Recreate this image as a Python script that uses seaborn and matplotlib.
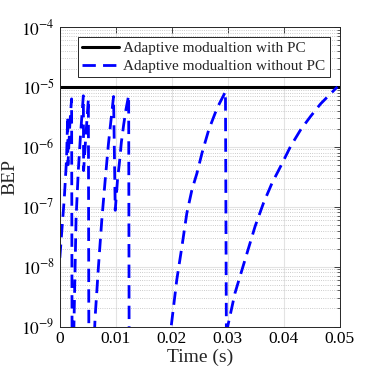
import numpy as np
import pandas as pd
import matplotlib
matplotlib.use('Agg')
import matplotlib.pyplot as plt
import matplotlib.ticker as mticker
import seaborn as sns

# BEP with power control: held at the target value
pc_time = [0.0, 0.05]
pc_bep = [1e-5, 1e-5]

# BEP without power control (values below 1e-9 sit off-axis)
nopc_time = [0.0, 0.0004, 0.0008, 0.0012, 0.0014, 0.00145, 0.0018, 0.0021, 0.0022,
             0.00245, 0.0029, 0.0033, 0.0037, 0.0042, 0.00425, 0.0046, 0.0051, 0.0052,
             0.0061, 0.0063, 0.0069, 0.0075, 0.0081, 0.0087, 0.0093, 0.0096,
             0.0099, 0.0103, 0.0107, 0.0110, 0.0114, 0.0118, 0.0123, 0.0124,
             0.0196, 0.0199, 0.0209, 0.0218, 0.0227, 0.0236, 0.0245, 0.0254, 0.0266,
             0.0281, 0.0296, 0.0298,
             0.0299, 0.0300, 0.0313, 0.0331, 0.0349, 0.0364, 0.0379, 0.0397, 0.0412,
             0.0430, 0.0448, 0.0466, 0.0496]
nopc_bep = [1.4e-8, 4.5e-8, 1.4e-7, 6.3e-7, 3.2e-6, 5e-7, 2.5e-6, 6.3e-6, 1e-10,
            5e-10, 6.3e-8, 4e-7, 1.6e-6, 7.1e-6, 4e-7, 1.3e-6, 6.3e-6, 1e-10,
            5e-10, 1.4e-9, 1e-8, 6e-8, 2.75e-7, 1.15e-6, 3.8e-6, 6.9e-6,
            8.7e-8, 2.75e-7, 6e-7, 1.2e-6, 2.3e-6, 4.1e-6, 7.2e-6, 1e-10,
            5e-10, 1e-9, 6e-9, 2.1e-8, 7.8e-8, 1.9e-7, 3.6e-7, 7.8e-7, 1.9e-6,
            4.4e-6, 8.3e-6, 1e-10,
            5e-10, 1e-9, 3.6e-9, 1.3e-8, 4.7e-8, 1.15e-7, 2.45e-7, 5.2e-7, 1e-6,
            1.9e-6, 3.2e-6, 5.2e-6, 1e-5]

label_pc = 'Adaptive modualtion with PC'
label_nopc = 'Adaptive modualtion without PC'

df_pc = pd.DataFrame({'t': pc_time, 'bep': pc_bep})
df_nopc = pd.DataFrame({'t': nopc_time, 'bep': nopc_bep})

sns.set_theme(style='white')
plt.rcParams['font.family'] = ['Liberation Serif', 'DejaVu Serif']
plt.rcParams['mathtext.fontset'] = 'stix'

fig = plt.figure(figsize=(3.74, 3.74), dpi=100)
ax = fig.add_axes([0.160, 0.127, 0.748, 0.801])

sns.lineplot(data=df_pc, x='t', y='bep', ax=ax, color='black', lw=2.2,
             sort=False, estimator=None, label=label_pc)
sns.lineplot(data=df_nopc, x='t', y='bep', ax=ax, color='blue', lw=2.0,
             sort=False, estimator=None, label=label_nopc)
ax.lines[1].set_dashes((4.8, 2.6))

ax.set_yscale('log')
ax.set_xlim(0, 0.05)
ax.set_ylim(1e-9, 1e-4)
ax.set_xticks([0, 0.01, 0.02, 0.03, 0.04, 0.05])
ax.xaxis.set_major_formatter(mticker.FuncFormatter(lambda v, p: '0' if v == 0 else f'{v:g}'))
ax.yaxis.set_major_locator(mticker.LogLocator(base=10, numticks=10))
ax.yaxis.set_minor_locator(mticker.LogLocator(base=10, subs=np.arange(2, 10), numticks=20))
ax.yaxis.set_minor_formatter(mticker.NullFormatter())
ax.yaxis.set_major_formatter(mticker.FuncFormatter(lambda v, p: r'$10^{%d}$' % round(np.log10(v))))
ax.xaxis.get_offset_text().set_visible(False)
ax.yaxis.get_offset_text().set_visible(False)

ax.grid(True, which='major', color='#e3e3e3', lw=0.8, ls='-')
ax.grid(True, which='minor', axis='y', color='#bbbbbb', lw=0.6, ls=':')
ax.set_axisbelow(True)

ax.tick_params(which='both', direction='in', top=True, right=True, colors='#262626',
               labelsize=12.5, labelcolor='black')
ax.tick_params(which='major', length=4, width=0.6)
ax.tick_params(which='minor', length=2, width=0.5)
for s in ax.spines.values():
    s.set_color('#262626')
    s.set_linewidth(0.7)

ax.set_xlabel('Time (s)', fontsize=14, labelpad=1)
ax.set_ylabel('BEP', fontsize=14, labelpad=2)

leg = ax.legend(loc='upper right', bbox_to_anchor=(0.966, 0.966), borderaxespad=0,
                fontsize=11, frameon=True, fancybox=False, framealpha=1,
                edgecolor='#262626', handlelength=2.4, handletextpad=0.3,
                labelspacing=0.25, borderpad=0.3)
leg.get_frame().set_linewidth(0.7)

fig.savefig('out.png', dpi=100)
